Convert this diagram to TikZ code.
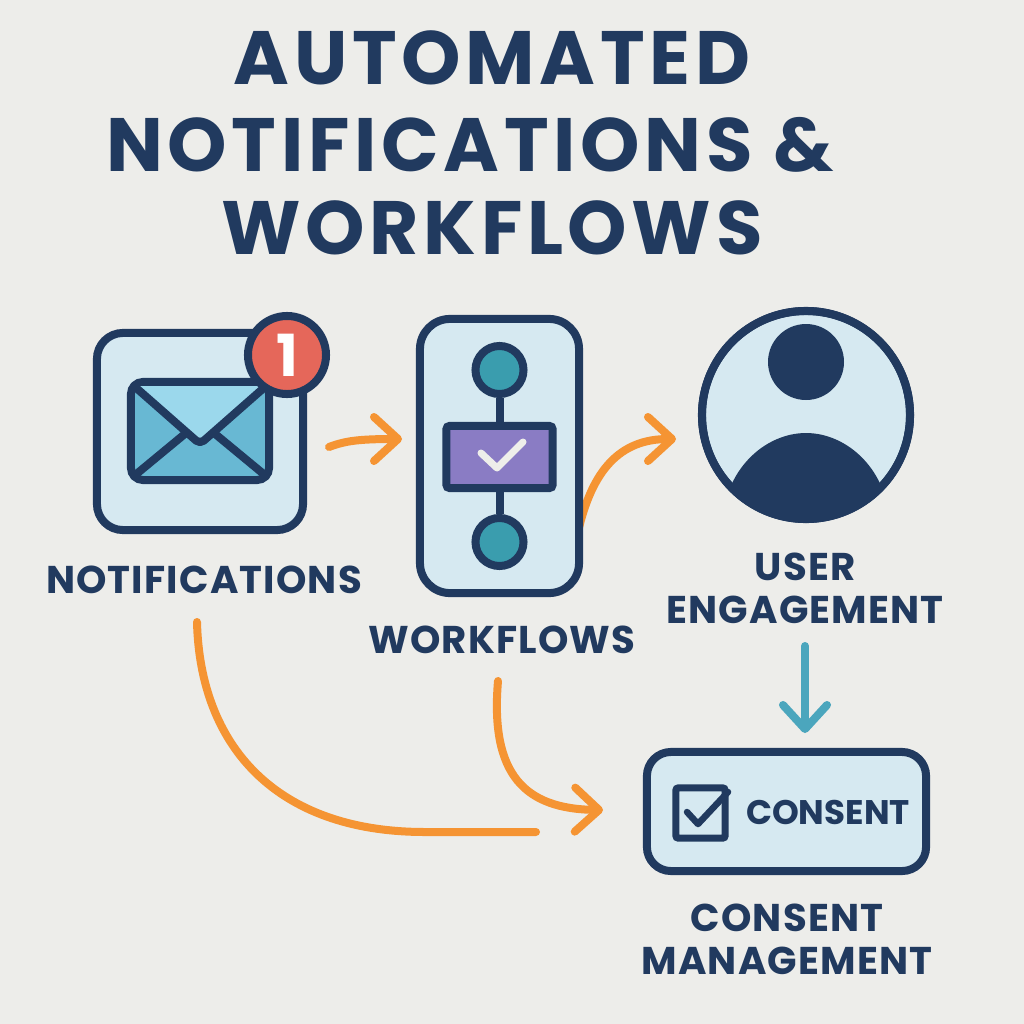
\documentclass[tikz,border=0pt]{standalone}
\usepackage{fontspec}
\setmainfont{Poppins}
\usetikzlibrary{arrows.meta}
\definecolor{navy}{HTML}{213A5F}
\definecolor{pagebg}{HTML}{EDEDEA}
\definecolor{panelblue}{HTML}{D6E9F1}
\definecolor{flaplight}{HTML}{9BD8EC}
\definecolor{flapdark}{HTML}{68B8D3}
\definecolor{badgered}{HTML}{E5675A}
\definecolor{stepteal}{HTML}{3A9DAE}
\definecolor{steppurple}{HTML}{8A7CC4}
\definecolor{flowblue}{HTML}{4BA6BD}
\definecolor{floworange}{HTML}{F59433}
\definecolor{tickwhite}{HTML}{EEEEEA}
\tikzset{
  panel/.style={draw=navy,fill=panelblue,line width=0.08cm,inner sep=0pt},
  dot/.style={draw=navy,fill=stepteal,line width=0.08cm,circle,minimum size=0.48cm,inner sep=0pt},
  heading/.style={text=navy,font=\fontsize{21.5}{24}\selectfont\bfseries\addfontfeatures{LetterSpace=6.2},inner sep=0pt},
  caption/.style={text=navy,font=\fontsize{11}{12.2}\selectfont\bfseries\addfontfeatures{LetterSpace=3},align=center,inner sep=0pt},
  flow/.style={draw=floworange,line width=0.08cm,line cap=round,line join=round},
  tip/.style={-{Straight Barb[length=0.24cm,width=0.44cm,round]}}
}
\begin{document}
\begin{tikzpicture}[x=0.01cm,y=-0.01cm]
\useasboundingbox (0,0) rectangle (1024,1024);
\fill[pagebg] (0,0) rectangle (1024,1024);

\node[name=Title-1,heading] at (492,58) {AUTOMATED};
\node[name=Title-2,heading] at (470,145) {NOTIFICATIONS \&};
\node[name=Title-3,heading] at (492,228) {WORKFLOWS};

\coordinate (Out-1) at (329,447);
\coordinate (In-1) at (402,439);
\coordinate (Out-2) at (578,532);
\coordinate (In-2) at (676,439);
\coordinate (Out-3) at (197,622);
\coordinate (In-3) at (536,832);
\coordinate (Out-4) at (498,681);
\coordinate (In-4) at (603,810);
\coordinate (Out-5) at (805,646);
\coordinate (In-5) at (805,733);

\draw[flow,tip] (Out-1) .. controls (345,441) and (358,439) .. (In-1);
\draw[flow,tip] (Out-2) .. controls (592,470) and (620,439) .. (In-2);
\draw[flow] (Out-3) .. controls (200,745) and (275,832) .. (425,832) -- (In-3);
\draw[flow,tip] (Out-4) .. controls (490,775) and (525,809) .. (In-4);
\draw[flow,tip,draw=flowblue] (Out-5) -- (In-5);

\node[name=Notifications-Box,panel,rounded corners=0.26cm,minimum width=2.06cm,minimum height=1.97cm] at (200,431.5) {};
\node[name=Envelope,draw=navy,fill=flapdark,line width=0.08cm,rounded corners=0.12cm,minimum width=1.38cm,minimum height=0.98cm,inner sep=0pt] at (200,431) {};
\fill[flaplight] (135,386) -- (265,386) -- (207,438) -- (193,438) -- cycle;
\draw[navy,line width=0.08cm,line cap=round,line join=round,rounded corners=0.05cm] (134,386) -- (200,444) -- (266,386);
\draw[navy,line width=0.08cm,line cap=round] (134,476) -- (186,433);
\draw[navy,line width=0.08cm,line cap=round] (266,476) -- (214,433);
\node[name=Badge,circle,draw=navy,fill=badgered,line width=0.08cm,minimum size=0.78cm,inner sep=0pt,text=white,font=\fontsize{16.5}{18}\selectfont\bfseries] at (287,355) {1};
\node[name=Notifications-Label,caption] at (204,580) {NOTIFICATIONS};

\node[name=Workflows-Box,panel,rounded corners=0.3cm,minimum width=1.59cm,minimum height=2.74cm] at (499.5,456) {};
\node[name=Step-Top,dot] at (499.5,370) {};
\node[name=Step-Bottom,dot] at (499.5,542) {};
\node[name=Step-Check,draw=navy,fill=steppurple,line width=0.08cm,rounded corners=0.03cm,minimum width=1.06cm,minimum height=0.62cm,inner sep=0pt] at (499.5,457) {};
\draw[navy,line width=0.08cm] (Step-Top) -- (Step-Check);
\draw[navy,line width=0.08cm] (Step-Check) -- (Step-Bottom);
\draw[tickwhite,line width=0.07cm,line cap=round,line join=round] (481,453) -- (497,468) -- (523,442);
\node[name=Workflows-Label,caption] at (502,640) {WORKFLOWS};

\node[name=User-Circle,panel,circle,minimum size=2.08cm] at (806,415) {};
\begin{scope}
\clip (User-Circle.center) circle (104);
\fill[navy] (722,530) .. controls (722,470) and (765,433) .. (806,433) .. controls (847,433) and (890,470) .. (890,530) -- cycle;
\end{scope}
\fill[navy] (806,362) circle (38);
\draw[navy,line width=0.08cm] (User-Circle.center) circle (104);
\node[name=User-Label,caption] at (805,588.5) {USER\\ENGAGEMENT};

\node[name=Consent-Box,panel,rounded corners=0.24cm,minimum width=2.79cm,minimum height=1.19cm] at (786.5,811.5) {};
\node[name=Consent-Tick,draw=navy,line width=0.07cm,rounded corners=0.02cm,minimum width=0.49cm,minimum height=0.5cm,inner sep=0pt] at (700.5,813) {};
\draw[navy,line width=0.065cm,line cap=round,line join=round] (687,812) -- (698,824) -- (728,792);
\node[name=Consent-Text,text=navy,inner sep=0pt,font=\fontsize{9.7}{12}\selectfont\bfseries] at (828,812) {CONSENT};
\node[name=Consent-Label,caption] at (787,939) {CONSENT\\MANAGEMENT};
\end{tikzpicture}
\end{document}
